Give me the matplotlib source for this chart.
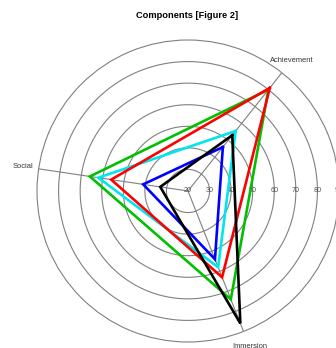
import numpy as np
import matplotlib.pyplot as plt

# componentes del cuestionario y puntajes por grupo
componentes = ['Achievement', 'Social', 'Immersion']
negro = [53, 33, 86]
rojo = [81, 56, 63]
verde = [80, 66, 74]
azul = [46, 41, 54]
cian = [55.5, 62, 58]

grilla = [20, 30, 40, 50, 60, 70, 80, 90]
rmin, rmax = 20, 90

inicio = 0.9  # radianes, como start= en radial.plot
angulos = inicio + np.arange(len(componentes)) * 2 * np.pi / len(componentes)

fig = plt.figure(figsize=(3.36, 3.48), dpi=100)
ax = fig.add_axes([37 / 336, 6 / 348, 302 / 336, 302 / 348], projection='polar')
ax.set_ylim(rmin, rmax)
ax.set_xticks([])
ax.set_yticks([])
ax.grid(False)
ax.spines['polar'].set_color('#808080')
ax.spines['polar'].set_linewidth(0.8)

# circulos de la grilla
t = np.linspace(0, 2 * np.pi, 400)
for g in grilla[1:-1]:
    ax.plot(t, np.full_like(t, g), color='#808080', lw=0.8, zorder=1)

# ejes de cada componente
for a in angulos:
    ax.plot([a, a], [rmin, rmax], color='#808080', lw=0.8, zorder=1)

fuente = 'Liberation Sans'
for g in grilla:
    ax.text(0, g, str(g), ha='center', va='center', fontsize=5.2,
            color='#555555', family=fuente, zorder=2)

for a, nombre in zip(angulos, componentes):
    ax.text(a, 97.3, nombre, ha='center', va='center', fontsize=5.4,
            color='#333333', family=fuente, clip_on=False)

series = [(cian, '#00e5ee'), (azul, '#0000ff'), (verde, '#00c000'),
          (rojo, '#ff0000'), (negro, '#000000')]
for i, (vals, col) in enumerate(series):
    th = np.append(angulos, angulos[0])
    r = np.append(vals, vals[0])
    ax.plot(th, r, color=col, lw=1.9, zorder=3 + i, solid_joinstyle='miter')

fig.text(187.5 / 336, 1 - 15 / 348, 'Components [Figure 2]', ha='center',
         va='center', fontsize=6.7, fontweight='bold', family=fuente)

fig.savefig('out.png', dpi=100)
